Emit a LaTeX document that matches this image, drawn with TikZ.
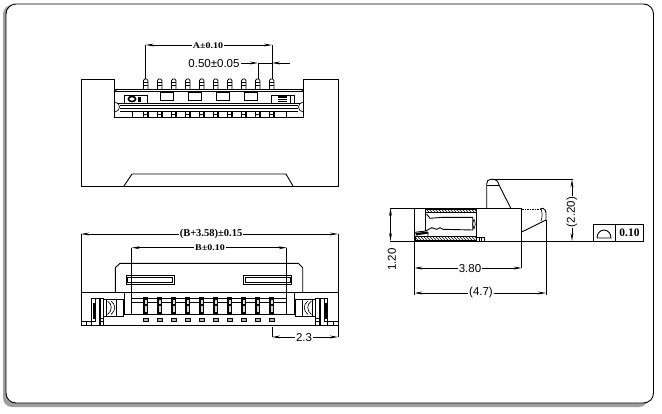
\documentclass[tikz,border=0pt]{standalone}
\usepackage{fontspec}
\setmainfont{Liberation Sans}
\newfontfamily\dimserif{Liberation Serif}
\newfontfamily\dimwide[FakeStretch=1.15]{Liberation Serif}
\usetikzlibrary{arrows.meta,patterns}
\tikzset{
  ln/.style={line width=0.9pt,black},
  thin ln/.style={line width=0.65pt,black},
  dimline/.style={line width=0.75pt,black,{Stealth[length=8pt,width=2.8pt]}-{Stealth[length=8pt,width=2.8pt]}},
  ext/.style={line width=0.75pt,black},
  lbl/.style={fill=white,inner sep=1pt,font=\fontsize{11.5}{11.5}\selectfont},
  slbl/.style={fill=white,inner sep=1pt,font=\dimwide\bfseries\fontsize{8.7}{8.7}\selectfont},
  hatch/.style={pattern=north west lines,pattern color=black,draw=black,line width=0.6pt}
}
\begin{document}
\begin{tikzpicture}[x=1pt,y=-1pt]
\useasboundingbox (0,0) rectangle (662,413);
\fill[white] (0,0) rectangle (662,413);
% sheet frame with shadow
\fill[gray!75,rounded corners=9pt] (3,5) rectangle (648,407);
\draw[fill=white,line width=0.9pt,rounded corners=10pt] (6,4) rectangle (653.5,403);

%%% TOP VIEW
\draw[ln] (114.7,117) -- (114.7,79) -- (81,79) -- (81,186) -- (338,186) -- (338,79) -- (303,79) -- (303,117) -- cycle;
\draw[ln] (124,186) -- (132,174) -- (286,174) -- (293,186);
\draw[ln] (115,89) -- (303,89);
\draw[thin ln] (115,91) -- (118,89) (303,91) -- (300,89);
\draw[thin ln] (115,91) -- (303,91);
% rails
\draw[ln] (117,103) -- (301,103);
\draw[thin ln] (120,105) -- (298,105) (120,108) -- (298,108);
\draw[ln] (120,111.5) -- (298,111.5);
\draw[thin ln] (115,102) .. controls (121,103) and (121,111) .. (115,112);
\draw[thin ln] (303,102) .. controls (297,103) and (297,111) .. (303,112);
% pins (upper and lower)
\foreach \k in {0,...,9}{
  \pgfmathsetmacro\px{145.7+14*\k}
  \draw[line width=0.8pt] (\px-2.2,89) -- (\px-2.2,80.5) -- (\px-1,79) -- (\px+1,79) -- (\px+2.2,80.5) -- (\px+2.2,89);
  \draw[line width=0.8pt] (\px-2.2,82.5) -- (\px+2.2,82.5) (\px-2.2,85.5) -- (\px+2.2,85.5);
  \draw[line width=1.2pt] (\px-2.2,112) -- (\px-2.2,117) (\px+2.2,112) -- (\px+2.2,117);
  \draw[thin ln] (\px-2.2,114.5) -- (\px+2.2,114.5);
}
\draw[thin ln] (132,112) -- (132,117) (286,112) -- (286,117);
% windows
\foreach \wx in {160,188,216,244}{
  \draw[ln] (\wx,92) rectangle (\wx+13,100);
}
% corner boxes
\draw[ln] (124,95) rectangle (147,103);
\draw[line width=1.6pt] (132,99) ellipse[x radius=3.6,y radius=2.6];
\fill (138,97) rectangle (141,102);
\draw[ln] (271,95) rectangle (294,103);
\fill (278,96) rectangle (287,102);
\draw[white,line width=0.4pt] (278,98) -- (287,98) (278,100) -- (287,100);
\draw[thin ln] (290,95) -- (290,103);
% dim A
\coordinate (aL) at (145.7,45);
\coordinate (aR) at (272,45);
\draw[dimline] (aL) -- (aR);
\draw[ext] (aL) -- (145.7,79) (aR) -- (272,79);
\node[slbl] (dimA) at (208,45.5) {A±0.10};
% dim 0.50
\coordinate (pL) at (258,63);
\coordinate (pR) at (272,63);
\coordinate (pS) at (240.7,63);
\coordinate (pE) at (290,63);
\draw[ext,-{Stealth[length=8pt,width=2.8pt]}] (pS) -- (pL);
\draw[ext,-{Stealth[length=8pt,width=2.8pt]}] (pE) -- (pR);
\draw[ext] (pL) -- (pR) (pL) -- (258,79);
\node[lbl,fill=none] (dimP) at (214,64) {0.50±0.05};

%%% BOTTOM VIEW
\draw[ln] (115.3,292.3) -- (115.3,267.7) -- (120,263.3) -- (298.3,263.3) -- (302.7,267.7) -- (302.7,292.3);
\draw[ln] (126,275.7) rectangle (174,284);
\draw[thin ln] (127.5,277.5) rectangle (172.5,282.5);
\draw[ln] (243.3,275.7) rectangle (291.7,284);
\draw[thin ln] (245,277.5) rectangle (290,282.5);
\draw[ln] (81,292.3) rectangle (338,325);
\draw[ln] (81,321) -- (95,321) (324,321) -- (338,321);
\draw[thin ln] (86,321) -- (86,325) (333,321) -- (333,325);
% side pockets
\draw[ln] (124.3,292.3) -- (124.3,314) -- (294.3,314) -- (294.3,292.3);
\draw[ln] (131.7,292.3) -- (131.7,314) (286.7,292.3) -- (286.7,314);
\draw[thin ln] (131.7,298.3) -- (286.7,298.3) (131.7,302) -- (286.7,302);
% left/right clip assemblies
\foreach \m in {1,-1}{
  \begin{scope}[shift={(209.5,0)},xscale=\m]
    \draw[ln] (-118,298) -- (-118,325);
    \draw[thin ln] (-114.5,298) -- (-114.5,322) (-110.5,298) -- (-110.5,325) (-109.5,298) -- (-109.5,325);
    \draw[ln] (-118,298) -- (-106,298) -- (-106,325);
    \fill (-117,303) rectangle (-115,319);
    \draw[thin ln] (-110.5,318) -- (-106,318) (-110.5,321) -- (-106,321);
    \draw[ln] (-106,299) rectangle (-86,316.5);
    \draw[thin ln] (-103,299) -- (-103,316.5) (-93,299) -- (-93,316.5);
    \draw[thin ln] (-102,301) .. controls (-97,304) and (-97,311) .. (-102,314.5);
    \draw[thin ln] (-98.5,301) .. controls (-93.5,304) and (-93.5,311) .. (-98.5,314.5);
  \end{scope}
}
% contact columns
\foreach \k in {0,...,9}{
  \pgfmathsetmacro\px{145.7+14*\k}
  \fill[black] (\px-2.6,296.5) rectangle (\px+2.6,314);
  \fill[gray!30] (\px-1,299.5) rectangle (\px+1,303.5);
  \fill[gray!30] (\px-1,305.5) rectangle (\px+1,311.5);
  \draw[ln,fill=gray!60] (\px-2.3,318) rectangle (\px+2.3,321.5);
  \draw[line width=1.2pt] (\px-2.5,325.5) -- (\px+2.5,325.5);
}
% dims
\coordinate (bbL) at (81,234);
\coordinate (bbR) at (338,234);
\draw[dimline] (bbL) -- (bbR);
\draw[ext] (bbL) -- (81,322) (bbR) -- (338,337);
\node[slbl,font=\dimserif\bfseries\fontsize{10.5}{10.5}\selectfont] (dimBB) at (211,234) {(B+3.58)±0.15};
\coordinate (bL) at (131.7,247.7);
\coordinate (bR) at (286.7,247.7);
\draw[dimline] (bL) -- (bR);
\draw[ext] (bL) -- (131.7,293) (bR) -- (286.7,293);
\node[slbl] (dimB) at (210,248) {B±0.10};
\coordinate (cL) at (272,337);
\coordinate (cR) at (338,337);
\draw[dimline] (cL) -- (cR);
\draw[ext] (cL) -- (272,327);
\node[lbl] (dimC) at (304,337.5) {2.3};

%%% SIDE VIEW
\draw[ln] (390,208) -- (521.7,208) -- (521.7,241);
\draw[ln] (390,241) -- (593,241);
\draw[ln] (414.3,208) -- (414.3,241);
% handle
\draw[ln] (486.7,208) -- (486.7,184) .. controls (486.7,181) and (488,179.3) .. (491,179.3) -- (494,179.3) .. controls (496,179.3) and (498,181) .. (499,185) -- (510.7,208);
\draw[thin ln] (486.7,185) -- (499,185);
\draw[ln] (494,179.3) -- (573,179.3);
% latch
\draw[thin ln,densely dotted] (521.7,209) -- (540,209);
\draw[ln] (540,209) -- (543,208.3) .. controls (545,209) and (546,211) .. (546,213) -- (546,220) -- (521.7,232);
\draw[thin ln] (541,209) .. controls (542.5,213) and (542.5,217) .. (541,221);
\draw[ln] (546,220) -- (546,295) (521.7,241) -- (521.7,268);
\draw[ln] (414.3,241) -- (414.3,295);
% section
\draw[hatch] (425.7,209) rectangle (476,212.7);
\draw[hatch] (415,236.7) rectangle (476,240.7);
\draw[ln] (425.7,212.7) -- (425.7,231) (476,208) -- (476,241);
\draw[ln] (426.5,214) -- (430,218.3) -- (443,217.3) -- (472.7,217.3) -- (472.7,230) -- (443,229.3) -- (440,227.7) -- (436.7,229.3) -- (431.7,227.7) -- (425.7,231) -- (415,232.3);
\draw[ln] (415,234) -- (428,232.5) -- (428,236.7);
\fill (416,233) -- (428,231.5) -- (428,233.5) -- (416,235.5) -- cycle;
\draw[thin ln] (474,219.3) .. controls (472.3,223) and (472.3,226) .. (474,229) .. controls (475.7,226) and (475.7,223) .. (474,219.3);
\draw[ln] (476,237) rectangle (484,241);
\draw[thin ln] (479,237) -- (479,241) (481.5,237) -- (481.5,241);
% dims
\coordinate (eT) at (390.5,208);
\coordinate (eB) at (390.5,241);
\draw[dimline] (eT) -- (eB);
\node[lbl,rotate=90,fill=none] (d120) at (392,259.5) {1.20};
\coordinate (fT) at (572,179.3);
\coordinate (fB) at (572,241);
\draw[dimline] (fT) -- (fB);
\node[lbl,rotate=90] (d220) at (572,212) {(2.20)};
\coordinate (gL) at (414.3,268);
\coordinate (gR) at (521.7,268);
\draw[dimline] (gL) -- (gR);
\node[lbl] (d380) at (470,268.5) {3.80};
\coordinate (hL) at (414.3,293);
\coordinate (hR) at (546,293);
\draw[dimline] (hL) -- (hR);
\node[lbl] (d47) at (481,293) {(4.7)};
% flatness frame
\draw[ln] (593,224.3) rectangle (643,241);
\draw[ln] (615.7,224.3) -- (615.7,241);
\draw[ln] (597,238) -- (611,238) arc[start angle=0,end angle=180,x radius=7,y radius=-8];
\node[lbl,fill=none,inner sep=0pt,font=\dimserif\bfseries\fontsize{11.5}{11.5}\selectfont] (d010) at (629.5,233) {0.10};
\end{tikzpicture}
\end{document}
